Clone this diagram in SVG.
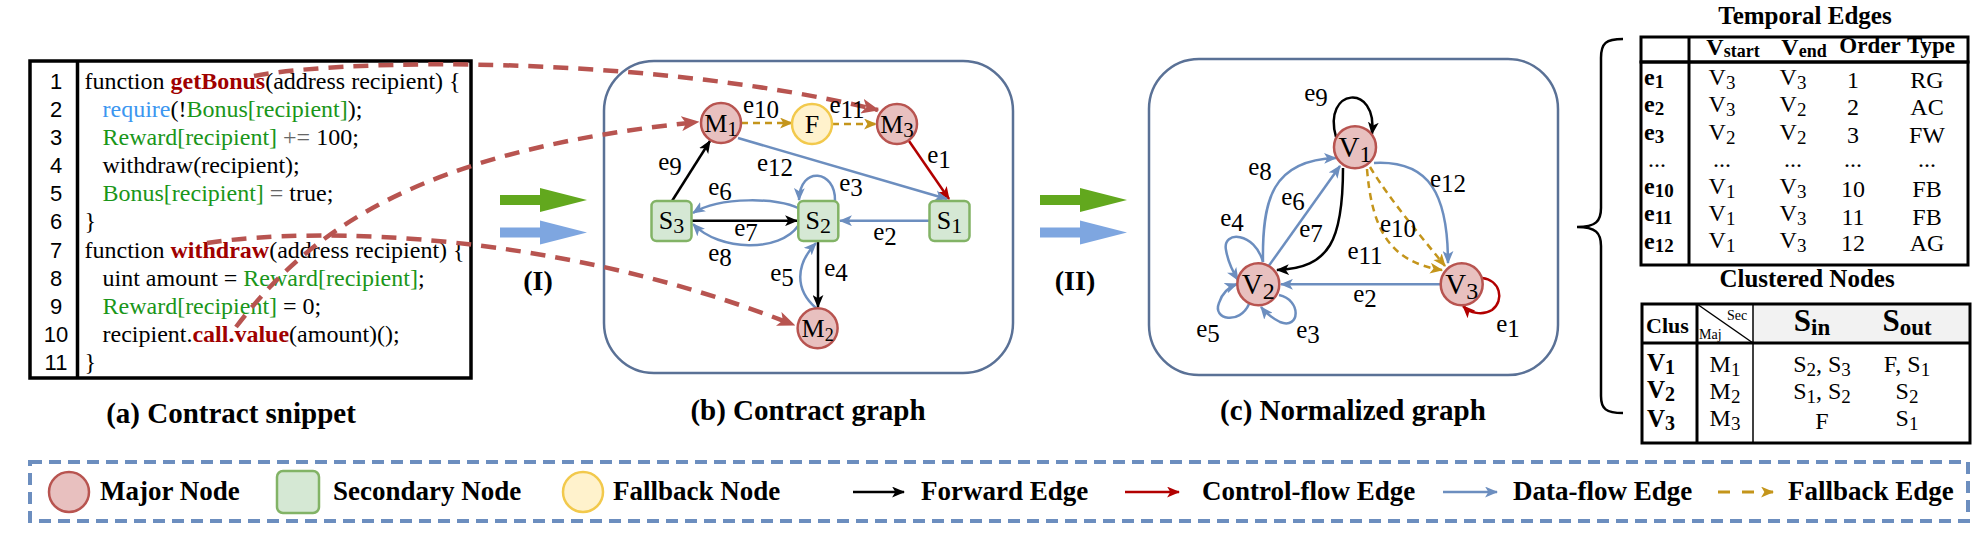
<svg xmlns="http://www.w3.org/2000/svg" width="1987" height="534" viewBox="0 0 1987 534">
<style>
.code{font-family:"Liberation Serif",serif;font-size:24px;fill:#000}
.ln{font-family:"Liberation Sans",sans-serif;font-size:22px;fill:#000;text-anchor:middle}
.kw{fill:#a00000;font-weight:bold}
.gr{fill:#1a961a}
.bl{fill:#3c96f0}
.gy{fill:#666}
.lbl{font-family:"Liberation Serif",serif;font-size:25px;fill:#000;text-anchor:middle}
.nl{font-family:"Liberation Serif",serif;font-size:26px;fill:#000;text-anchor:middle}
.vl{font-family:"Liberation Serif",serif;font-size:29px;fill:#000;text-anchor:middle}
.ttl{font-family:"Liberation Serif",serif;font-size:29px;font-weight:bold;fill:#000;text-anchor:middle}
.leg{font-family:"Liberation Serif",serif;font-size:27px;font-weight:bold;fill:#000}
.tb{font-family:"Liberation Serif",serif;font-size:24px;fill:#000;text-anchor:middle}
.tbb{font-family:"Liberation Serif",serif;font-size:25px;font-weight:bold;fill:#000}
.maj{fill:#e8c0bf;stroke:#b85450;stroke-width:2.5}
.sec{fill:#d5e8d4;stroke:#82b366;stroke-width:2.5}
.fb{fill:#fff2cc;stroke:#f2c94c;stroke-width:2.5}
.panel{fill:#fff;stroke:#5a7196;stroke-width:2.5}
.eb{fill:none;stroke:#000;stroke-width:2.5;marker-end:url(#mk)}
.ebl{fill:none;stroke:#6c8ebf;stroke-width:2.5;marker-end:url(#mb)}
.er{fill:none;stroke:#b20000;stroke-width:2.5;marker-end:url(#mr)}
.eg{fill:none;stroke:#c4951b;stroke-width:2.5;stroke-dasharray:7 5;marker-end:url(#mg)}
.ed{fill:none;stroke:#b85450;stroke-width:4.5;stroke-dasharray:15 10;marker-end:url(#md)}
.grid{fill:none;stroke:#000;stroke-width:3}
</style>
<defs>
<marker id="mk" viewBox="0 0 12 10" markerWidth="13" markerHeight="11" refX="11" refY="5" orient="auto" markerUnits="userSpaceOnUse"><path d="M0,0 L12,5 L0,10 L3,5 Z" fill="#000"/></marker>
<marker id="mb" viewBox="0 0 12 10" markerWidth="13" markerHeight="11" refX="11" refY="5" orient="auto" markerUnits="userSpaceOnUse"><path d="M0,0 L12,5 L0,10 L3,5 Z" fill="#6c8ebf"/></marker>
<marker id="mr" viewBox="0 0 12 10" markerWidth="13" markerHeight="11" refX="11" refY="5" orient="auto" markerUnits="userSpaceOnUse"><path d="M0,0 L12,5 L0,10 L3,5 Z" fill="#b20000"/></marker>
<marker id="mg" viewBox="0 0 12 10" markerWidth="13" markerHeight="11" refX="11" refY="5" orient="auto" markerUnits="userSpaceOnUse"><path d="M0,0 L12,5 L0,10 L3,5 Z" fill="#c4951b"/></marker>
<marker id="md" viewBox="0 0 12 10" markerWidth="18" markerHeight="15" refX="11" refY="5" orient="auto" markerUnits="userSpaceOnUse"><path d="M0,0 L12,5 L0,10 L3,5 Z" fill="#b85450"/></marker>
</defs>

<!-- (a) code snippet -->
<g id="code">
<rect x="30" y="61" width="441" height="317" fill="#fff" stroke="#000" stroke-width="3.5"/>
<line x1="77.5" y1="61" x2="77.5" y2="378" stroke="#000" stroke-width="3.5"/>
<text class="ln" x="56" y="89">1</text>
<text class="ln" x="56" y="117">2</text>
<text class="ln" x="56" y="145">3</text>
<text class="ln" x="56" y="173">4</text>
<text class="ln" x="56" y="201">5</text>
<text class="ln" x="56" y="229">6</text>
<text class="ln" x="56" y="258">7</text>
<text class="ln" x="56" y="286">8</text>
<text class="ln" x="56" y="314">9</text>
<text class="ln" x="56" y="342">10</text>
<text class="ln" x="56" y="370">11</text>
<text class="code" x="84.5" y="89">function <tspan class="kw">getBonus</tspan>(address recipient) {</text>
<text class="code" x="102.5" y="117"><tspan class="bl">require</tspan>(!<tspan class="gr">Bonus[recipient]</tspan>);</text>
<text class="code" x="102.5" y="145"><tspan class="gr">Reward[recipient]</tspan> <tspan class="gy">+=</tspan> 100;</text>
<text class="code" x="102.5" y="173">withdraw(recipient);</text>
<text class="code" x="102.5" y="201"><tspan class="gr">Bonus[recipient]</tspan> <tspan class="gy">=</tspan> true;</text>
<text class="code" x="84.5" y="229">}</text>
<text class="code" x="84.5" y="258">function <tspan class="kw">withdraw</tspan>(address recipient) {</text>
<text class="code" x="102.5" y="286">uint amount = <tspan class="gr">Reward[recipient]</tspan>;</text>
<text class="code" x="102.5" y="314"><tspan class="gr">Reward[recipient]</tspan> = 0;</text>
<text class="code" x="102.5" y="342">recipient.<tspan class="kw">call.value</tspan>(amount)();</text>
<text class="code" x="84.5" y="370">}</text>
</g>
<text class="ttl" x="231" y="423">(a) Contract snippet</text>

<!-- step arrows -->
<g id="step1">
<path d="M500,195 H540 V188 L587,200 L540,212 V205 H500 Z" fill="#62a81e"/>
<path d="M500,227.5 H540 V220.5 L587,232.5 L540,244.5 V237.5 H500 Z" fill="#7ea6e0"/>
<text class="ttl" x="538" y="290" style="font-size:28px">(I)</text>
</g>
<g id="step2">
<path d="M1040,195 H1080 V188 L1127,200 L1080,212 V205 H1040 Z" fill="#62a81e"/>
<path d="M1040,227.5 H1080 V220.5 L1127,232.5 L1080,244.5 V237.5 H1040 Z" fill="#7ea6e0"/>
<text class="ttl" x="1075" y="290" style="font-size:28px">(II)</text>
</g>

<!-- (b) contract graph -->
<rect id="panel-b" class="panel" x="604" y="61" width="409" height="312" rx="50"/>
<text class="ttl" x="808" y="420">(b) Contract graph</text>

<!-- (c) normalized graph -->
<rect id="panel-c" class="panel" x="1149" y="59" width="409" height="316" rx="50"/>
<text class="ttl" x="1353" y="420">(c) Normalized graph</text>

<g id="connectors">
<!-- code to graph -->
<path class="ed" d="M254,76 C350,58 650,55 878,110"/>
<path class="ed" d="M236,327 C310,230 420,150 698,122"/>
<path class="ed" d="M207,243 C320,226 560,232 794,325"/>
<!-- (b) edges -->
<path class="eg" d="M741,123 L792,123"/>
<path class="eg" d="M832,124 L876,124"/>
<path class="er" d="M909,141 L949,199"/>
<path class="ebl" d="M738,138 L947,199"/>
<path class="eb" d="M672,201 L710,141"/>
<path class="ebl" d="M798,208 C780,198 720,196 693,213"/>
<path class="eb" d="M692,220.7 L797,220.7"/>
<path class="ebl" d="M798,226 C780,252 720,252 693,224"/>
<path class="ebl" d="M835,201 C836,170 800,165 799,200"/>
<path class="ebl" d="M929,220.7 L840,220.7"/>
<path class="eb" d="M818,241 L818,307"/>
<path class="ebl" d="M816,308 C795,290 795,265 816,243"/>
<!-- (c) edges -->
<path class="eb" d="M1336,137 C1322,88 1378,82 1372,134"/>
<path class="ebl" d="M1263,262 C1262,200 1272,160 1336,158"/>
<path class="ebl" d="M1268,267 L1340,166"/>
<path class="eb" d="M1343,168 C1343,240 1330,268 1277,270"/>
<path class="ebl" d="M1263,262 C1255,232 1222,230 1226,250 C1228,262 1233,272 1238,280"/>
<path class="ebl" d="M1249,304 C1240,325 1212,320 1219,303 C1222,293 1229,287 1237,284"/>
<path class="ebl" d="M1279,295 C1302,300 1300,330 1280,322 C1272,318 1265,312 1261,307"/>
<path class="ebl" d="M1440,284.3 L1281,284.3"/>
<path class="ebl" d="M1374,163 C1430,160 1448,195 1448,263"/>
<path class="eg" d="M1370,167 C1390,200 1420,235 1445,266"/>
<path class="eg" d="M1367,169 C1372,230 1390,262 1442,270"/>
<path class="er" d="M1482,278 C1500,280 1505,300 1492,310 C1482,316 1470,313 1463,306"/>
</g>

<g id="edge-labels-b">
<text class="lbl" x="761" y="113">e<tspan dy="5">10</tspan></text>
<text class="lbl" x="847" y="113">e<tspan dy="5">11</tspan></text>
<text class="lbl" x="939" y="163">e<tspan dy="5">1</tspan></text>
<text class="lbl" x="775" y="171">e<tspan dy="5">12</tspan></text>
<text class="lbl" x="670" y="170">e<tspan dy="5">9</tspan></text>
<text class="lbl" x="720" y="195">e<tspan dy="5">6</tspan></text>
<text class="lbl" x="746" y="236">e<tspan dy="5">7</tspan></text>
<text class="lbl" x="720" y="261">e<tspan dy="5">8</tspan></text>
<text class="lbl" x="851" y="191">e<tspan dy="5">3</tspan></text>
<text class="lbl" x="885" y="240">e<tspan dy="5">2</tspan></text>
<text class="lbl" x="836" y="276">e<tspan dy="5">4</tspan></text>
<text class="lbl" x="782" y="281">e<tspan dy="5">5</tspan></text>
</g>
<g id="edge-labels-c">
<text class="lbl" x="1316" y="101">e<tspan dy="5">9</tspan></text>
<text class="lbl" x="1260" y="175">e<tspan dy="5">8</tspan></text>
<text class="lbl" x="1293" y="205">e<tspan dy="5">6</tspan></text>
<text class="lbl" x="1311" y="237">e<tspan dy="5">7</tspan></text>
<text class="lbl" x="1232" y="226">e<tspan dy="5">4</tspan></text>
<text class="lbl" x="1208" y="337">e<tspan dy="5">5</tspan></text>
<text class="lbl" x="1308" y="338">e<tspan dy="5">3</tspan></text>
<text class="lbl" x="1365" y="302">e<tspan dy="5">2</tspan></text>
<text class="lbl" x="1448" y="187">e<tspan dy="5">12</tspan></text>
<text class="lbl" x="1398" y="232">e<tspan dy="5">10</tspan></text>
<text class="lbl" x="1365" y="259">e<tspan dy="5">11</tspan></text>
<text class="lbl" x="1508" y="332">e<tspan dy="5">1</tspan></text>
</g>

<!-- (b) nodes -->
<g id="M1"><circle class="maj" cx="721" cy="123" r="20"/><text class="nl" x="721" y="132">M<tspan font-size="21" dy="4">1</tspan></text></g>
<g id="F"><circle class="fb" cx="812" cy="124" r="20"/><text class="nl" x="812" y="133">F</text></g>
<g id="M3"><circle class="maj" cx="897" cy="124" r="20"/><text class="nl" x="897" y="133">M<tspan font-size="21" dy="4">3</tspan></text></g>
<g id="S3"><rect class="sec" x="651.5" y="201" width="40" height="40" rx="5"/><text class="nl" x="671.5" y="229">S<tspan font-size="22" dy="4">3</tspan></text></g>
<g id="S2"><rect class="sec" x="798.3" y="201" width="40" height="40" rx="5"/><text class="nl" x="818.3" y="229">S<tspan font-size="22" dy="4">2</tspan></text></g>
<g id="S1"><rect class="sec" x="929.5" y="201" width="40" height="40" rx="5"/><text class="nl" x="949.5" y="229">S<tspan font-size="22" dy="4">1</tspan></text></g>
<g id="M2"><circle class="maj" cx="817.6" cy="328.3" r="20"/><text class="nl" x="817.6" y="337">M<tspan font-size="18" dy="4">2</tspan></text></g>

<!-- (c) nodes -->
<g id="V1"><circle class="maj" cx="1355" cy="147.3" r="21"/><text class="vl" x="1355" y="157">V<tspan font-size="24" dy="5">1</tspan></text></g>
<g id="V2"><circle class="maj" cx="1258.3" cy="284.3" r="21"/><text class="vl" x="1258.3" y="294">V<tspan font-size="24" dy="5">2</tspan></text></g>
<g id="V3"><circle class="maj" cx="1461.7" cy="284.3" r="21"/><text class="vl" x="1461.7" y="294">V<tspan font-size="24" dy="5">3</tspan></text></g>

<!-- brace -->
<path d="M1623,39 C1606,39 1601,43 1601,58 L1601,208 C1601,221 1596,227 1577,227 C1596,227 1601,233 1601,246 L1601,396 C1601,409 1606,413 1623,413" fill="none" stroke="#000" stroke-width="2.5"/>

<!-- Temporal Edges table -->
<g id="temporal-edges">
<text class="tbb" x="1805" y="24" text-anchor="middle">Temporal Edges</text>
<rect x="1641" y="37" width="327" height="25" fill="#f2f2f2" class="grid"/>
<rect x="1641" y="62" width="327" height="203" class="grid"/>
<line x1="1689" y1="37" x2="1689" y2="265" stroke="#000" stroke-width="3"/>
<text class="tbb" x="1733" y="55" text-anchor="middle" style="font-size:24px">V<tspan font-size="18" dy="2">start</tspan></text>
<text class="tbb" x="1804" y="55" text-anchor="middle" style="font-size:24px">V<tspan font-size="18" dy="2">end</tspan></text>
<text class="tbb" x="1870" y="53" text-anchor="middle" style="font-size:23px">Order</text>
<text class="tbb" x="1931" y="53" text-anchor="middle" style="font-size:23px">Type</text>
<g class="tbb" style="font-size:24px">
<text x="1644" y="85">e<tspan font-size="19" dy="3">1</tspan></text>
<text x="1644" y="112">e<tspan font-size="19" dy="3">2</tspan></text>
<text x="1644" y="140">e<tspan font-size="19" dy="3">3</tspan></text>
<text x="1644" y="194">e<tspan font-size="19" dy="3">10</tspan></text>
<text x="1644" y="221">e<tspan font-size="19" dy="3">11</tspan></text>
<text x="1644" y="249">e<tspan font-size="19" dy="3">12</tspan></text>
</g>
<text class="tb" x="1657" y="167">...</text>
<text class="tb" x="1722" y="85">V<tspan font-size="19" dy="4">3</tspan></text>
<text class="tb" x="1722" y="112">V<tspan font-size="19" dy="4">3</tspan></text>
<text class="tb" x="1722" y="140">V<tspan font-size="19" dy="4">2</tspan></text>
<text class="tb" x="1722" y="167">...</text>
<text class="tb" x="1722" y="194">V<tspan font-size="19" dy="4">1</tspan></text>
<text class="tb" x="1722" y="221">V<tspan font-size="19" dy="4">1</tspan></text>
<text class="tb" x="1722" y="248">V<tspan font-size="19" dy="4">1</tspan></text>
<text class="tb" x="1793" y="85">V<tspan font-size="19" dy="4">3</tspan></text>
<text class="tb" x="1793" y="112">V<tspan font-size="19" dy="4">2</tspan></text>
<text class="tb" x="1793" y="140">V<tspan font-size="19" dy="4">2</tspan></text>
<text class="tb" x="1793" y="167">...</text>
<text class="tb" x="1793" y="194">V<tspan font-size="19" dy="4">3</tspan></text>
<text class="tb" x="1793" y="221">V<tspan font-size="19" dy="4">3</tspan></text>
<text class="tb" x="1793" y="248">V<tspan font-size="19" dy="4">3</tspan></text>
<text class="tb" x="1853" y="88">1</text>
<text class="tb" x="1853" y="115">2</text>
<text class="tb" x="1853" y="143">3</text>
<text class="tb" x="1853" y="167">...</text>
<text class="tb" x="1853" y="197">10</text>
<text class="tb" x="1853" y="225">11</text>
<text class="tb" x="1853" y="251">12</text>
<text class="tb" x="1927" y="88">RG</text>
<text class="tb" x="1927" y="115">AC</text>
<text class="tb" x="1927" y="143">FW</text>
<text class="tb" x="1927" y="167">...</text>
<text class="tb" x="1927" y="197">FB</text>
<text class="tb" x="1927" y="225">FB</text>
<text class="tb" x="1927" y="251">AG</text>
</g>

<!-- Clustered Nodes table -->
<g id="clustered-nodes">
<text class="tbb" x="1807" y="287" text-anchor="middle">Clustered Nodes</text>
<rect x="1753" y="304" width="217" height="39" fill="#f2f2f2"/>
<rect x="1642" y="304" width="328" height="139" class="grid"/>
<line x1="1642" y1="343" x2="1970" y2="343" stroke="#000" stroke-width="3"/>
<line x1="1697" y1="304" x2="1697" y2="443" stroke="#000" stroke-width="3"/>
<line x1="1753" y1="304" x2="1753" y2="443" stroke="#000" stroke-width="1.5"/>
<line x1="1697" y1="304" x2="1753" y2="343" stroke="#000" stroke-width="1.5"/>
<text class="tbb" x="1646" y="333" style="font-size:22px">Clus</text>
<text x="1727" y="320" font-family="Liberation Serif, serif" font-size="14">Sec</text>
<text x="1699" y="339" font-family="Liberation Serif, serif" font-size="14">Maj</text>
<text class="tbb" x="1812" y="331" text-anchor="middle" style="font-size:31px">S<tspan font-size="23" dy="4">in</tspan></text>
<text class="tbb" x="1907" y="331" text-anchor="middle" style="font-size:31px">S<tspan font-size="23" dy="4">out</tspan></text>
<g class="tbb" style="font-size:25px">
<text x="1647" y="371">V<tspan font-size="20" dy="3">1</tspan></text>
<text x="1647" y="398">V<tspan font-size="20" dy="3">2</tspan></text>
<text x="1647" y="427">V<tspan font-size="20" dy="3">3</tspan></text>
</g>
<text class="tb" x="1725" y="372">M<tspan font-size="19" dy="4">1</tspan></text>
<text class="tb" x="1725" y="399">M<tspan font-size="19" dy="4">2</tspan></text>
<text class="tb" x="1725" y="426">M<tspan font-size="19" dy="4">3</tspan></text>
<text class="tb" x="1822" y="372">S<tspan font-size="19" dy="4">2</tspan><tspan dy="-4">, S</tspan><tspan font-size="19" dy="4">3</tspan></text>
<text class="tb" x="1822" y="399">S<tspan font-size="19" dy="4">1</tspan><tspan dy="-4">, S</tspan><tspan font-size="19" dy="4">2</tspan></text>
<text class="tb" x="1822" y="429">F</text>
<text class="tb" x="1907" y="372">F, S<tspan font-size="19" dy="4">1</tspan></text>
<text class="tb" x="1907" y="399">S<tspan font-size="19" dy="4">2</tspan></text>
<text class="tb" x="1907" y="426">S<tspan font-size="19" dy="4">1</tspan></text>
</g>

<!-- legend -->
<g id="legend">
<rect x="30" y="462" width="1938" height="59" fill="none" stroke="#6c8ebf" stroke-width="4" stroke-dasharray="12 7"/>
<circle class="maj" cx="69" cy="492" r="20"/>
<text class="leg" x="100" y="500">Major Node</text>
<rect class="sec" x="277" y="471" width="42" height="42" rx="6"/>
<text class="leg" x="333" y="500">Secondary Node</text>
<circle class="fb" cx="583" cy="492" r="20"/>
<text class="leg" x="613" y="500">Fallback Node</text>
<line x1="853" y1="492" x2="904" y2="492" class="eb"/>
<text class="leg" x="921" y="500">Forward Edge</text>
<line x1="1125" y1="492" x2="1179" y2="492" class="er"/>
<text class="leg" x="1202" y="500">Control-flow Edge</text>
<line x1="1443" y1="492" x2="1497" y2="492" class="ebl"/>
<text class="leg" x="1513" y="500">Data-flow Edge</text>
<line x1="1718" y1="492" x2="1773" y2="492" fill="none" stroke="#c4951b" stroke-width="3" stroke-dasharray="12 12" marker-end="url(#mg)"/>
<text class="leg" x="1788" y="500">Fallback Edge</text>
</g>
</svg>
